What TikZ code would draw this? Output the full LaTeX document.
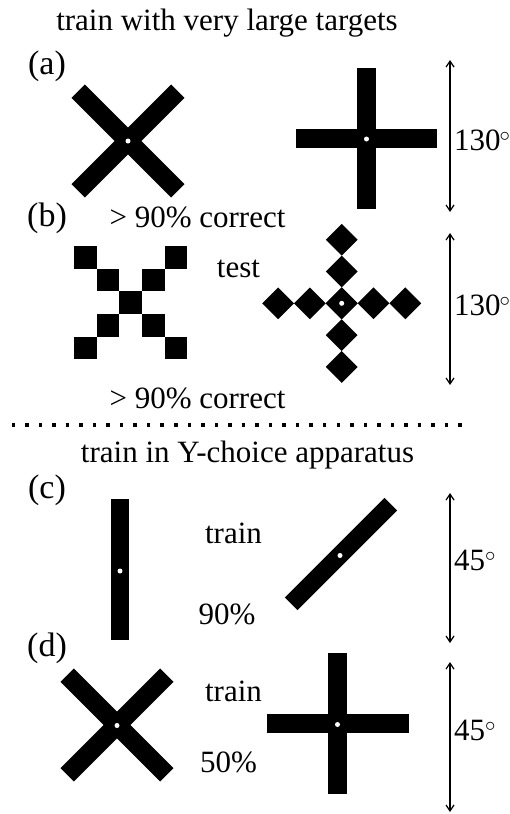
\documentclass[tikz,border=0pt]{standalone}
\usepackage{fontspec}
\setmainfont{Liberation Serif}
\usetikzlibrary{arrows.meta}
\tikzset{
  txt/.style={inner sep=0pt,font=\fontsize{31}{36}\selectfont},
  pan/.style={inner sep=0pt,font=\fontsize{34}{38}\selectfont},
  span/.style={{Straight Barb[length=6pt,width=8pt]}-{Straight Barb[length=6pt,width=8pt]},line width=1.2pt},
  eye/.style={fill=white}
}

\begin{document}
\begin{tikzpicture}[x=1pt,y=-1pt]
\useasboundingbox (0,0) rectangle (509,814);
% headings and panel letters
\node[txt,anchor=base] (headA) at (227,30) {train with very large targets};
\node[pan] (panA) at (47,66) {(a)};
\node[pan] (panB) at (47,218) {(b)};
\node[txt,anchor=base] (headB) at (247.5,462) {train in Y-choice apparatus};
\node[pan] (panC) at (47,490) {(c)};
\node[pan] (panD) at (47,648) {(d)};

% (a) large targets
\fill[shift={(128,141)},rotate=45] (-70.5,-9.5) rectangle (70.5,9.5);
\fill[shift={(128,141)},rotate=-45] (-70.5,-9.5) rectangle (70.5,9.5);
\fill (357,68) rectangle (376,209);
\fill (296,129) rectangle (437,148);
\fill[eye] (128,141) circle (2.5);
\fill[eye] (366.5,139) circle (2.5);
\coordinate (aTop) at (450,60);
\coordinate (aBot) at (450,212);
\draw[span] (aTop) -- (aBot);
\node[txt,anchor=west] (angA) at (454,140) {130\kern-1pt$^{\circ}$};
\node[txt,anchor=base] (scoreA) at (197.5,227) {> 90\% correct};

% (b) test patterns
\foreach \i in {0,...,4} {
  \fill ({74+22.67*\i},{246+22.67*\i}) rectangle ++(22.67,22.67);
  \fill ({74+22.67*(4-\i)},{246+22.67*\i}) rectangle ++(22.67,22.67);
}
\foreach \k in {-2,...,2} {
  \fill ({341.7+31.8*\k},303.3) ++(-15.9,0) -- ++(15.9,-15.9) -- ++(15.9,15.9) -- ++(-15.9,15.9) -- cycle;
  \fill (341.7,{303.3+31.8*\k}) ++(-15.9,0) -- ++(15.9,-15.9) -- ++(15.9,15.9) -- ++(-15.9,15.9) -- cycle;
}
\fill[eye] (341.7,303.3) circle (2.5);
\node[txt,anchor=base] (testB) at (238.5,277) {test};
\coordinate (bTop) at (450,233);
\coordinate (bBot) at (450,385);
\draw[span] (bTop) -- (bBot);
\node[txt,anchor=west] (angB) at (454,305) {130\kern-1pt$^{\circ}$};
\node[txt,anchor=base] (scoreB) at (197.5,408) {> 90\% correct};

% divider
\foreach \k in {0,...,33}
  \fill ({11.55+13.54*\k},423) rectangle ++(3.5,3.5);

% (c) Y-choice, bars
\fill (111,499) rectangle (129,640);
\fill[eye] (120,571) circle (2.5);
\fill[shift={(341,554)},rotate=45] (-70.5,-9) rectangle (70.5,9);
\fill[eye] (340,555.5) circle (2.5);
\node[txt,anchor=base] (trainC) at (233.5,543) {train};
\node[txt,anchor=base] (pctC) at (227,624) {90\%};
\coordinate (cTop) at (450,493);
\coordinate (cBot) at (450,643);
\draw[span] (cTop) -- (cBot);
\node[txt,anchor=west] (angC) at (454,560) {45$^{\circ}$};

% (d) Y-choice, crosses
\fill[shift={(117,725)},rotate=45] (-70.5,-9.5) rectangle (70.5,9.5);
\fill[shift={(117,725)},rotate=-45] (-70.5,-9.5) rectangle (70.5,9.5);
\fill (328,653) rectangle (347,794);
\fill (267,714) rectangle (408.5,733);
\fill[eye] (117,725.5) circle (2.5);
\fill[eye] (337.5,724.5) circle (2.5);
\node[txt,anchor=base] (trainD) at (233.5,701) {train};
\node[txt,anchor=base] (pctD) at (228.5,772) {50\%};
\coordinate (dTop) at (450,662);
\coordinate (dBot) at (450,812);
\draw[span] (dTop) -- (dBot);
\node[txt,anchor=west] (angD) at (454,730) {45$^{\circ}$};
\end{tikzpicture}
\end{document}
